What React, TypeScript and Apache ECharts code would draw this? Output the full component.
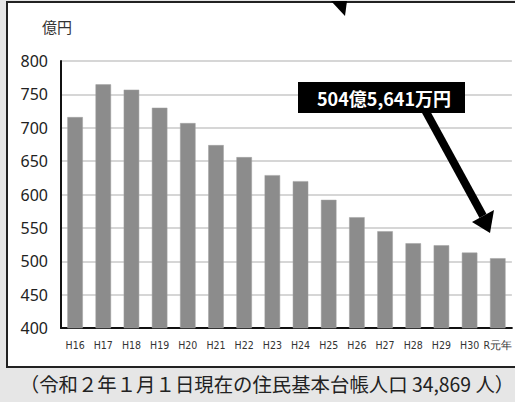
import React, { useEffect, useRef } from "react";
import * as echarts from "echarts";

const categories = ["H16", "H17", "H18", "H19", "H20", "H21", "H22", "H23", "H24", "H25", "H26", "H27", "H28", "H29", "H30", "R元年"];
const revenue = [716, 765, 757, 730, 707, 674, 656, 629, 620, 592, 566, 545, 527, 524, 513, 504.56];
const yTicks = { min: 400, max: 800, interval: 50 };
const unitLabel = "億円";
const calloutText = "504億5,641万円";
const captionText = "（令和２年１月１日現在の住民基本台帳人口 34,869 人）";

export default function App() {
  const ref = useRef<HTMLDivElement>(null);
  useEffect(() => {
    if (!ref.current) return;
    const chart = echarts.init(ref.current, null, { renderer: "svg" });
    chart.setOption({
      animation: false,
      backgroundColor: "#e6e6e6",
      grid: { left: 61, right: 1, top: 61, bottom: 74, containLabel: false },
      xAxis: {
        type: "category",
        data: categories,
        axisLine: { show: true, lineStyle: { color: "#111", width: 2 } },
        axisTick: { show: false },
        axisLabel: {
          color: "#333",
          fontSize: 10.5,
          fontFamily: "DejaVu Sans Condensed, Liberation Sans Narrow, sans-serif",
          margin: 11,
          interval: 0,
        },
      },
      yAxis: {
        type: "value",
        min: yTicks.min,
        max: yTicks.max,
        interval: yTicks.interval,
        axisLine: { show: true, lineStyle: { color: "#111", width: 2 } },
        axisTick: { show: false },
        axisLabel: {
          color: "#222",
          fontSize: 16,
          fontFamily: "Noto Sans, sans-serif",
          margin: 13,
        },
        splitLine: { show: true, lineStyle: { color: "#c8c8c8", width: 1.5 } },
      },
      series: [
        {
          type: "bar",
          data: revenue,
          barWidth: "55%",
          itemStyle: { color: "#8c8c8c", borderColor: "#a0a0a0", borderWidth: 0.5 },
        },
      ],
      graphic: [
        {
          type: "rect",
          z: -1,
          shape: { x: 7, y: 2, width: 530, height: 365 },
          style: { fill: "#ffffff", stroke: "#222", lineWidth: 2 },
          silent: true,
        },
        {
          type: "text",
          z: 10,
          x: 42,
          y: 19,
          style: { text: unitLabel, fontSize: 15, fill: "#333", fontFamily: "Noto Sans CJK JP, sans-serif" },
        },
        {
          type: "polygon",
          z: 100,
          shape: { points: [[331, 1], [347, 1], [345, 16]] },
          style: { fill: "#000" },
        },
        {
          type: "line",
          z: 100,
          shape: { x1: 425, y1: 110, x2: 483, y2: 216 },
          style: { stroke: "#000", lineWidth: 8 },
        },
        {
          type: "polygon",
          z: 100,
          shape: { points: [[472, 222], [494, 210], [490, 233]] },
          style: { fill: "#000" },
        },
        {
          type: "rect",
          z: 100,
          shape: { x: 298, y: 82, width: 167, height: 31 },
          style: { fill: "#000" },
        },
        {
          type: "text",
          z: 101,
          x: 384,
          y: 98,
          style: {
            text: calloutText,
            fontSize: 18,
            fontWeight: "bold",
            fill: "#fff",
            align: "center",
            verticalAlign: "middle",
            fontFamily: "Noto Sans CJK JP, sans-serif",
          },
        },
        {
          type: "text",
          z: 10,
          x: 267,
          y: 383,
          style: {
            text: captionText,
            fontSize: 19.4,
            fill: "#222",
            align: "center",
            verticalAlign: "middle",
            fontFamily: "Noto Sans CJK JP, sans-serif",
          },
        },
      ],
    });
    return () => chart.dispose();
  }, []);
  return <div ref={ref} style={{ position: "fixed", left: 0, top: 0, width: 515, height: 402 }} />;
}
